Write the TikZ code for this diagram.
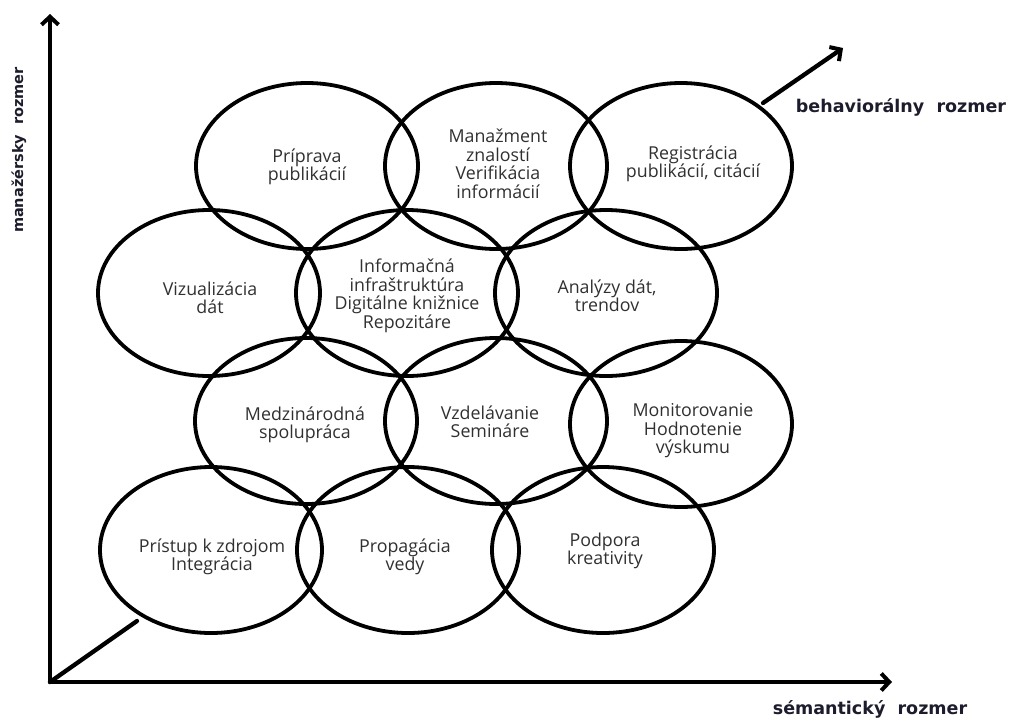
\documentclass[tikz,border=0pt]{standalone}
\usepackage{fontspec}
\usetikzlibrary{shapes.geometric,arrows.meta}
\newfontfamily\txtfont{Open Sans}
\newfontfamily\axfont{DejaVu Sans}
\definecolor{txtgray}{HTML}{303030}
\definecolor{axcol}{HTML}{1C1C2C}
\tikzset{
  ell/.style={ellipse,draw=black,line width=3.8pt,minimum width=222pt,minimum height=166pt,inner sep=0pt},
  lbl/.style={align=center,text=txtgray,font=\txtfont\fontsize{17.8pt}{18.5pt}\selectfont,inner sep=0pt},
  axis/.style={line width=4.3pt,draw=black,line cap=round},
  axarrow/.style={axis,-{Straight Barb[length=8pt,width=17pt,line width=4pt]}},
  axlbl/.style={text=axcol,font=\axfont\bfseries\fontsize{17.5pt}{20pt}\selectfont,inner sep=0pt}
}
\begin{document}
\begin{tikzpicture}[x=1pt,y=-1pt]
\useasboundingbox (0,0) rectangle (1009,720);
% axes
\coordinate (O) at (50,682);
\coordinate (ytop) at (50,14);
\coordinate (xend) at (892,682);
\coordinate (dA) at (137,621);
\coordinate (dB) at (763,103);
\coordinate (dC) at (843,48);
\draw[axarrow] (O) -- (ytop);
\draw[axarrow] (O) -- (xend);
\draw[axis] (O) -- (dA);
\draw[axarrow] (dB) -- (dC);
% axis labels
\node[axlbl,rotate=90,font=\axfont\bfseries\fontsize{14.5pt}{17pt}\selectfont] (lm) at (19,150) {manažérsky\ \ rozmer};
\node[axlbl] (ls) at (870,709) {sémantický\ \ rozmer};
\node[axlbl] (lb) at (901,107) {behaviorálny\ \ rozmer};
% ellipses
\node[ell] (e11) at (307,166) {};
\node[ell] (e12) at (496,166) {};
\node[ell] (e13) at (681,166) {};
\node[ell] (e21) at (209,293) {};
\node[ell] (e22) at (407,293) {};
\node[ell] (e23) at (606,293) {};
\node[ell] (e31) at (306,421) {};
\node[ell] (e32) at (496,421) {};
\node[ell] (e33) at (681,424) {};
\node[ell] (e41) at (211,550) {};
\node[ell] (e42) at (408,550) {};
\node[ell] (e43) at (603,550) {};
% texts
\node[lbl] (t11) at (307,167) {Príprava\\publikácií};
\node[lbl] (t12) at (498,164) {Manažment\\znalostí\\Verifikácia\\informácií};
\node[lbl] (t13) at (693,164) {Registrácia\\publikácií, citácií};
\node[lbl] (t21) at (210,298) {Vizualizácia\\dát};
\node[lbl] (t22) at (407,296) {Informačná\\infraštruktúra\\Digitálne knižnice\\Repozitáre};
\node[lbl] (t23) at (607,296) {Analýzy dát,\\trendov};
\node[lbl] (t31) at (305,425) {Medzinárodná\\spolupráca};
\node[lbl] (t32) at (490,422) {Vzdelávanie\\Semináre};
\node[lbl] (t33) at (693,431) {Monitorovanie\\Hodnotenie\\výskumu};
\node[lbl] (t41) at (212,557) {Prístup k zdrojom\\Integrácia};
\node[lbl] (t42) at (405,557) {Propagácia\\vedy};
\node[lbl] (t43) at (605,551) {Podpora\\kreativity};
\end{tikzpicture}
\end{document}
